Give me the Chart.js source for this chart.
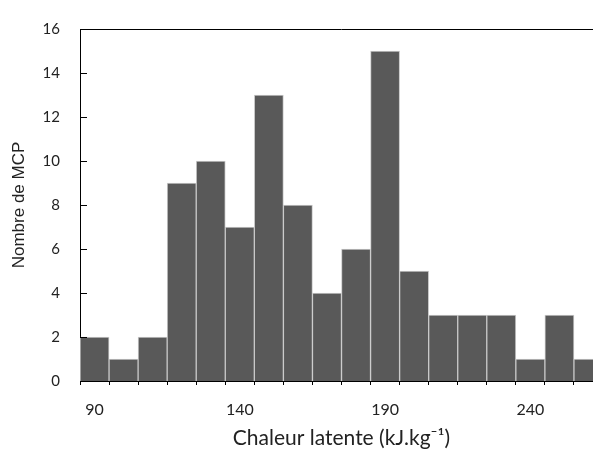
<!DOCTYPE html>
<html>
<head>
<meta charset="utf-8">
<script src="https://cdn.jsdelivr.net/npm/chart.js@4"></script>
<style>
    html, body { margin: 0; padding: 0; background: #fff; overflow: hidden; }
    .chart-container { position: relative; width: 620px; height: 452px; }
</style>
</head>
<body>
<div class="chart-container">
    <canvas id="histChart"></canvas>
</div>
<script>
// Histogram of latent heat (class start, kJ/kg) and count of PCMs
const categories = ['90', '100', '110', '120', '130', '140', '150', '160', '170',
    '180', '190', '200', '210', '220', '230', '240', '250', '260'];
const counts = [2, 1, 2, 9, 10, 7, 13, 8, 4, 6, 15, 5, 3, 3, 3, 1, 3, 1];
const yTicks = [0, 2, 4, 6, 8, 10, 12, 14, 16];

// inner tick marks on y axis + top frame line (Excel style)
const framePlugin = {
    id: 'frame',
    afterDraw(chart) {
        const { ctx, chartArea } = chart;
        const y = chart.scales.y;
        ctx.save();
        ctx.strokeStyle = '#000';
        ctx.lineWidth = 1;
        ctx.beginPath();
        ctx.moveTo(chartArea.left, chartArea.top + 0.5);
        ctx.lineTo(chartArea.right, chartArea.top + 0.5);
        yTicks.forEach(v => {
            const py = Math.round(y.getPixelForValue(v)) + 0.5;
            ctx.moveTo(chartArea.left, py);
            ctx.lineTo(chartArea.left + 7, py);
        });
        ctx.stroke();
        ctx.restore();
    }
};

const ctx = document.getElementById('histChart').getContext('2d');
new Chart(ctx, {
    type: 'bar',
    data: {
        labels: categories,
        datasets: [{
            label: 'MCP',
            data: counts,
            backgroundColor: '#595959',
            borderColor: '#c8c8c8',
            borderWidth: 1,
            barPercentage: 1,
            categoryPercentage: 1
        }]
    },
    options: {
        responsive: true,
        maintainAspectRatio: false,
        animation: false,
        layout: { padding: { top: 25, right: 17, left: 0, bottom: 0 } },
        plugins: {
            legend: { display: false },
            tooltip: { enabled: false }
        },
        scales: {
            x: {
                afterFit(scale) { scale.height = 71; },
                border: { display: true, color: '#000', width: 1 },
                grid: {
                    display: true,
                    drawOnChartArea: false,
                    drawTicks: true,
                    tickLength: 4,
                    color: '#000'
                },
                ticks: {
                    autoSkip: false,
                    maxRotation: 0,
                    padding: 15,
                    color: '#222',
                    font: { family: 'Lato', size: 16 },
                    callback: function (value, index) {
                        return index % 5 === 0 ? categories[index] : '';
                    }
                },
                title: {
                    display: true,
                    text: 'Chaleur latente (kJ.kg\u207B\u00B9)',
                    color: '#222',
                    font: { family: 'Lato', size: 21 },
                    padding: { top: 4, bottom: 1 }
                }
            },
            y: {
                min: 0,
                max: 16,
                afterFit(scale) { scale.width = 80; },
                border: { display: true, color: '#000', width: 1 },
                grid: { display: false, drawTicks: false },
                ticks: {
                    stepSize: 2,
                    padding: 20,
                    color: '#222',
                    font: { family: 'Lato', size: 15 }
                },
                title: {
                    display: true,
                    text: 'Nombre de MCP',
                    color: '#222',
                    font: { family: 'Liberation Sans', size: 17 },
                    padding: { top: 9, bottom: 4 }
                }
            }
        }
    },
    plugins: [framePlugin]
});
</script>
</body>
</html>
